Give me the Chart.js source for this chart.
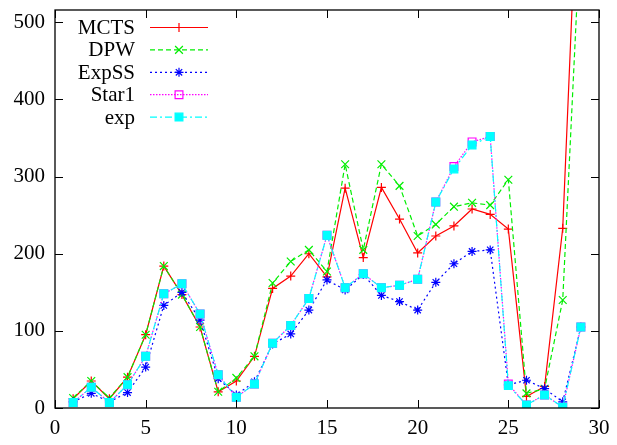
<!DOCTYPE html>
<html>
<head>
<meta charset="utf-8">
<script src="https://cdn.jsdelivr.net/npm/chart.js@4/dist/chart.umd.min.js"></script>
<style>
  html, body { margin: 0; padding: 0; background: #fff; }
  #wrap { width: 617px; height: 445px; }
</style>
</head>
<body>
<div id="wrap"><canvas id="c" width="617" height="445"></canvas></div>
<script>
const categories = [1,2,3,4,5,6,7,8,9,10,11,12,13,14,15,16,17,18,19,20,21,22,23,24,25,26,27,28,29];
const seriesNames = ["MCTS", "DPW", "ExpSS", "Star1", "exp"];
const mcts  = [12,35,12,40,95,184,147,105,21,35,67,155,171,200,170,285,195,286,245,201,223,236,258,251,232,15,28,233,790];
const dpw   = [13,35,13,40,95,184,147,105,21,39,67,162,190,205,177,316,205,316,288,223,238,261,266,263,296,19,25,140,630];
const expss = [8,19,8,20,53,133,150,114,38,17,34,83,96,127,166,153,173,146,138,127,163,187,203,205,30,36,25,8,105];
const star1 = [7,27,7,30,67,148,161,122,43,14,31,84,107,142,224,156,174,156,159,167,267,313,345,352,31,4,17,1,105];
const expv  = [7,27,7,30,67,148,161,122,43,14,31,84,107,142,224,156,174,156,159,167,267,310,341,352,29,4,17,1,105];
const xTicks = [0,5,10,15,20,25,30];
const yTicks = [0,100,200,300,400,500];

const FONT = "Liberation Serif";
const FS = 21;

function pts(arr){ return arr.map((v,i)=>({x:categories[i], y:v})); }

const styles = [
  {color:"#ff0000", dash:[], ps:"cross", r:4.5, fill:false},
  {color:"#00ee00", dash:[5,3], ps:"crossRot", r:5.5, fill:false},
  {color:"#0000ff", dash:[2,3], ps:"star", r:4.5, fill:false},
  {color:"#ff00ff", dash:[1.5,1.5], ps:"rect", r:5.5, fill:false},
  {color:"#00ffff", dash:[7,3,2,3], ps:"rect", r:5.5, fill:true}
];
const values = [mcts, dpw, expss, star1, expv];

const datasets = values.map((arr,i)=>({
  label: seriesNames[i],
  data: pts(arr),
  borderColor: styles[i].color,
  backgroundColor: styles[i].fill ? styles[i].color : "rgba(0,0,0,0)",
  borderWidth: 1.2,
  borderDash: styles[i].dash,
  pointStyle: styles[i].ps,
  pointRadius: styles[i].r,
  pointHoverRadius: styles[i].r,
  pointBorderColor: styles[i].color,
  pointBackgroundColor: styles[i].fill ? styles[i].color : "rgba(0,0,0,0)",
  pointBorderWidth: 1.2,
  tension: 0,
  order: 5 - i
}));

const framePlugin = {
  id: "frame",
  afterDraw(chart){
    const ctx = chart.ctx, a = chart.chartArea;
    const xs = chart.scales.x, ys = chart.scales.y;
    ctx.save();
    ctx.strokeStyle = "#000";
    ctx.lineWidth = 1.3;
    ctx.setLineDash([]);
    ctx.strokeRect(a.left, a.top, a.right - a.left, a.bottom - a.top);
    ctx.lineWidth = 1;
    const tl = 8;
    xTicks.forEach(v=>{
      const px = Math.round(xs.getPixelForValue(v)) + 0.5;
      ctx.beginPath();
      ctx.moveTo(px, a.bottom); ctx.lineTo(px, a.bottom - tl);
      ctx.moveTo(px, a.top); ctx.lineTo(px, a.top + tl);
      ctx.stroke();
    });
    yTicks.forEach(v=>{
      const py = Math.round(ys.getPixelForValue(v)) + 0.5;
      ctx.beginPath();
      ctx.moveTo(a.left, py); ctx.lineTo(a.left + tl, py);
      ctx.moveTo(a.right, py); ctx.lineTo(a.right - tl, py);
      ctx.stroke();
    });
    // legend
    ctx.font = FS + "px '" + FONT + "'";
    ctx.textAlign = "right";
    ctx.textBaseline = "middle";
    chart.data.datasets.forEach((ds,i)=>{
      const y = 27.5 + i*22.4;
      ctx.fillStyle = "#000";
      ctx.fillText(ds.label, 135, y + 1);
      ctx.strokeStyle = ds.borderColor;
      ctx.lineWidth = ds.borderWidth;
      ctx.setLineDash(ds.borderDash);
      ctx.beginPath();
      ctx.moveTo(150, y); ctx.lineTo(208, y);
      ctx.stroke();
      ctx.setLineDash([]);
      ctx.fillStyle = ds.pointBackgroundColor;
      ctx.strokeStyle = ds.pointBorderColor;
      ctx.lineWidth = ds.pointBorderWidth;
      Chart.helpers.drawPoint(ctx, {pointStyle: ds.pointStyle, radius: ds.pointRadius, rotation: 0, borderWidth: ds.pointBorderWidth}, 179, y);
    });
    ctx.restore();
  }
};

new Chart(document.getElementById("c"), {
  type: "line",
  data: { datasets },
  options: {
    responsive: false,
    animation: false,
    devicePixelRatio: 1,
    layout: { padding: { top: 10, right: 18, left: 0, bottom: 0 } },
    plugins: { legend: { display: false }, tooltip: { enabled: false } },
    elements: { line: { tension: 0 } },
    scales: {
      x: {
        type: "linear", min: 0, max: 30,
        grid: { display: false, drawTicks: false },
        border: { display: false },
        afterBuildTicks(s){ s.ticks = xTicks.map(v=>({value:v})); },
        afterFit(s){ s.height = 37; s.paddingLeft = 0; s.paddingRight = 0; },
        ticks: { color: "#000", font: { family: FONT, size: FS }, padding: 8, maxRotation: 0, autoSkip: false }
      },
      y: {
        type: "linear", min: 0, max: 516,
        grid: { display: false, drawTicks: false },
        border: { display: false },
        afterBuildTicks(s){ s.ticks = yTicks.map(v=>({value:v})); },
        afterFit(s){ s.width = 55; s.paddingTop = 0; s.paddingBottom = 0; },
        ticks: { color: "#000", font: { family: FONT, size: FS }, padding: 10, autoSkip: false }
      }
    }
  },
  plugins: [framePlugin]
});
</script>
</body>
</html>
